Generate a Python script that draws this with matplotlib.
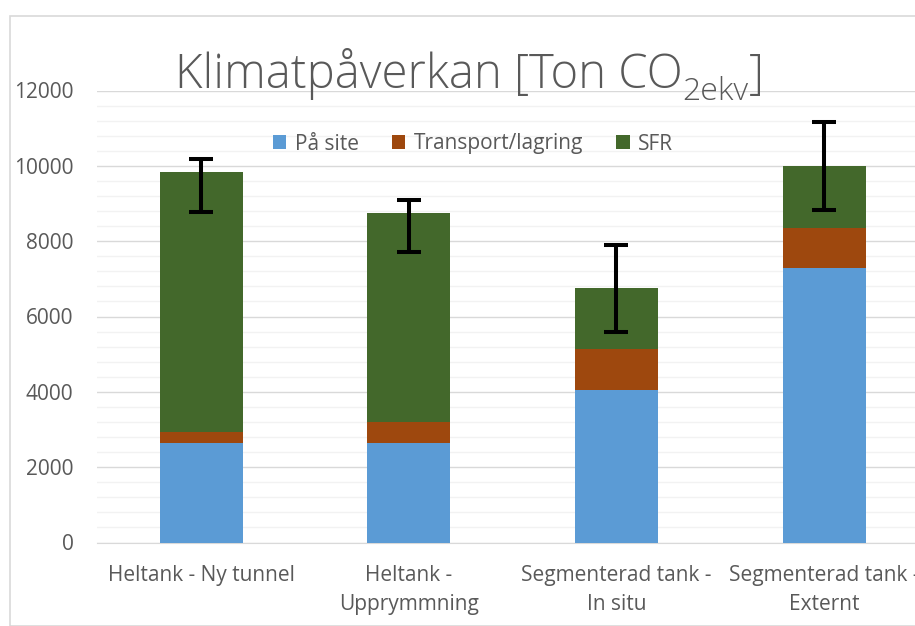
import matplotlib.pyplot as plt
import numpy as np
from matplotlib.patches import Rectangle

# --- Data ---
categories = ['Heltank - Ny tunnel', 'Heltank -\nUpprymmning',
              'Segmenterad tank -\nIn situ', 'Segmenterad tank -\nExternt']
pa_site = [2650, 2650, 4040, 7280]
transport = [280, 550, 1090, 1070]
sfr = [6900, 5550, 1630, 1650]
err_low = [1050, 1040, 1175, 1170]
err_high = [340, 330, 1150, 1160]
series_labels = ['På site', 'Transport/lagring', 'SFR']
colors = ['#5B9BD5', '#9E480E', '#43682B']

plt.rcParams['font.family'] = ['Open Sans', 'DejaVu Sans']
txt = '#595959'

fig = plt.figure(figsize=(9.15, 6.26), dpi=100)
ax = fig.add_axes([97.2 / 915, 1 - 542.5 / 626, 4 * 207.7 / 915, 452 / 626])

x = np.arange(len(categories))
w = 0.4
b1 = np.array(pa_site)
b2 = b1 + np.array(transport)
tot = b2 + np.array(sfr)
ax.bar(x, pa_site, w, color=colors[0], label=series_labels[0], zorder=3)
ax.bar(x, transport, w, bottom=b1, color=colors[1], label=series_labels[1], zorder=3)
ax.bar(x, sfr, w, bottom=b2, color=colors[2], label=series_labels[2], zorder=3)
ax.errorbar(x, tot, yerr=[err_low, err_high], fmt='none', ecolor='black',
            elinewidth=2.9, capsize=8.6, capthick=2.9, zorder=4)

ax.set_xlim(-0.5, 3.5)
ax.set_ylim(0, 12000)
ax.set_yticks(np.arange(0, 12001, 2000))
ax.set_yticks(np.arange(0, 12001, 400), minor=True)
ax.grid(axis='y', which='major', color='#d9d9d9', lw=1, zorder=0)
ax.grid(axis='y', which='minor', color='#f2f2f2', lw=1, zorder=0)
for s in ['top', 'right', 'left']:
    ax.spines[s].set_visible(False)
ax.spines['bottom'].set_color('#d9d9d9')
ax.tick_params(axis='both', which='both', length=0, colors=txt, labelsize=15)
ax.tick_params(axis='y', pad=17)
ax.tick_params(axis='x', pad=16)
ax.set_xticks(x)
ax.set_xticklabels(categories, linespacing=1.5)

# title in pieces so the subscript sits like the original
t1 = fig.text(175 / 915, 1 - 88 / 626, 'Klimatpåverkan [Ton CO',
              ha='left', va='baseline', fontsize=34, color=txt, fontweight='light')
t2 = ax.annotate('2ekv', xy=(1, 1 - 100 / 626), xycoords=(t1, 'figure fraction'),
                 ha='left', va='baseline', fontsize=23, color=txt,
                 fontweight='light', annotation_clip=False)
ax.annotate(']', xy=(1, 1 - 88 / 626), xycoords=(t2, 'figure fraction'),
            ha='left', va='baseline', fontsize=34, color=txt,
            fontweight='light', annotation_clip=False)

fig.legend(loc='center', bbox_to_anchor=(473 / 915, 1 - 144 / 626), ncol=3,
           frameon=False, fontsize=15, labelcolor=txt, handlelength=0.65,
           handleheight=0.65, handletextpad=0.4, columnspacing=1.6)

fig.patches.append(Rectangle((10 / 915, 0), 2, 1 - 16 / 626, transform=fig.transFigure,
                             fill=False, edgecolor='#d9d9d9', lw=1.2))

fig.savefig('out.png', dpi=100)
